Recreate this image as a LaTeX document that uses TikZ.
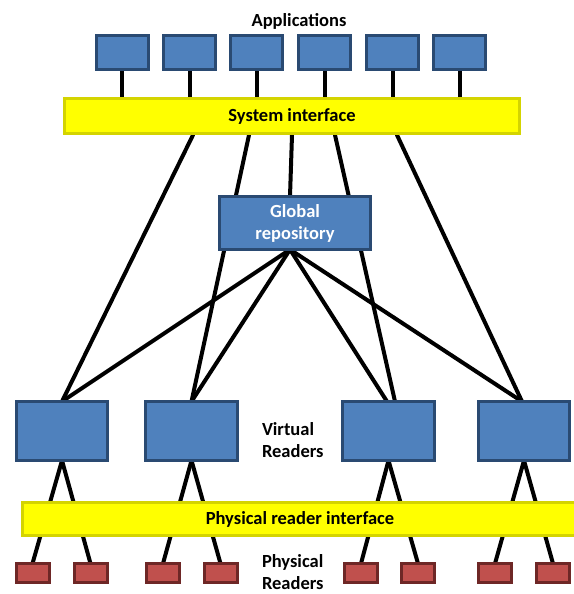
\documentclass[tikz,border=0pt]{standalone}
\usepackage{fontspec}
\setmainfont{Carlito}
\usetikzlibrary{backgrounds}
\definecolor{boxblue}{HTML}{4F81BD}
\definecolor{boxblueline}{HTML}{2A4A72}
\definecolor{readerred}{HTML}{C0504D}
\definecolor{readerredline}{HTML}{6E2726}
\definecolor{busyellow}{HTML}{FFFF00}
\definecolor{busyellowline}{HTML}{D4D400}
\begin{document}
\begin{tikzpicture}[x=1pt,y=-1pt,
  every node/.style={inner sep=0pt, outer sep=0pt},
  lbl/.style={font=\fontsize{18.5}{22}\selectfont\bfseries},
  bluebox/.style={draw=boxblueline, fill=boxblue, line width=3pt},
  appbox/.style={bluebox, minimum width=52pt, minimum height=34pt},
  vrbox/.style={bluebox, minimum width=92pt, minimum height=59pt},
  prbox/.style={draw=readerredline, fill=readerred, line width=3pt,
    minimum width=33pt, minimum height=19pt},
  bus/.style={draw=busyellowline, fill=busyellow, line width=3pt, lbl},
  wire/.style={line width=4pt, black, line cap=round},
]
\useasboundingbox (0,0) rectangle (573,594);

% titles
\node[lbl, anchor=base] (apps) at (299,26.5) {Applications};

% application boxes
\node[appbox] (a1) at (122,52.5) {};
\node[appbox] (a2) at (189.5,52.5) {};
\node[appbox] (a3) at (256.5,52.5) {};
\node[appbox] (a4) at (324.5,52.5) {};
\node[appbox] (a5) at (392.5,52.5) {};
\node[appbox] (a6) at (459.5,52.5) {};

% system interface bus
\node[bus, minimum width=455pt, minimum height=35pt] (sys) at (292,116) {System interface};

% global repository
\node[bluebox, minimum width=151pt, minimum height=53pt, align=center,
      lbl, text=white] (repo) at (295,223) {Global\\repository};

% virtual readers
\node[vrbox, minimum width=91pt] (v1) at (62,431) {};
\node[vrbox] (v2) at (191.5,431) {};
\node[vrbox] (v3) at (388.5,431) {};
\node[vrbox, minimum width=91pt] (v4) at (524,431) {};
\node[lbl, anchor=base west, align=left] (vlabel) at (262,457) {Virtual\\Readers};

% physical reader interface bus
\node[bus, minimum width=555pt, minimum height=33pt] (phy) at (300,519) {Physical reader interface};

% physical readers
\node[prbox] (p1) at (32.5,573) {};
\node[prbox] (p2) at (90.5,573) {};
\node[prbox] (p3) at (163,573) {};
\node[prbox] (p4) at (220.5,573) {};
\node[prbox] (p5) at (361,573) {};
\node[prbox] (p6) at (418,573) {};
\node[prbox] (p7) at (495,573) {};
\node[prbox] (p8) at (553,573) {};
\node[lbl, anchor=base west, align=left] (plabel) at (262,589) {Physical\\Readers};

% taps on the underside of the system interface
\coordinate (s1) at (193,135);
\coordinate (s2) at (249,135);
\coordinate (s3) at (292,135);
\coordinate (s4) at (335,135);
\coordinate (s5) at (397,135);
\coordinate (fan) at ([xshift=-5pt]repo.south);

\begin{scope}[on background layer]
  % applications to system interface
  \foreach \a in {a1,a2,a3,a4,a5,a6}
    \draw[wire] (\a.south) -- (\a.south |- sys.north);
  % system interface downwards
  \draw[wire] (s1) -- (v1.north);
  \draw[wire] (s2) -- (v2.north);
  \draw[wire] (s3) -- ([xshift=-5pt]repo.north);
  \draw[wire] (s4) -- ([xshift=6.5pt]v3.north);
  \draw[wire] (s5) -- ([xshift=-2pt]v4.north);
  % repository fan-out
  \draw[wire] (fan) -- (v1.north);
  \draw[wire] (fan) -- (v2.north);
  \draw[wire] (fan) -- ([xshift=-1.5pt]v3.north);
  \draw[wire] (fan) -- ([xshift=-2pt]v4.north);
  % virtual readers to physical readers
  \draw[wire] (v1.south) -- (p1.north);
  \draw[wire] (v1.south) -- (p2.north);
  \draw[wire] (v2.south) -- (p3.north);
  \draw[wire] (v2.south) -- (p4.north);
  \draw[wire] (v3.south) -- (p5.north);
  \draw[wire] (v3.south) -- (p6.north);
  \draw[wire] (v4.south) -- (p7.north);
  \draw[wire] (v4.south) -- (p8.north);
\end{scope}
\end{tikzpicture}
\end{document}
